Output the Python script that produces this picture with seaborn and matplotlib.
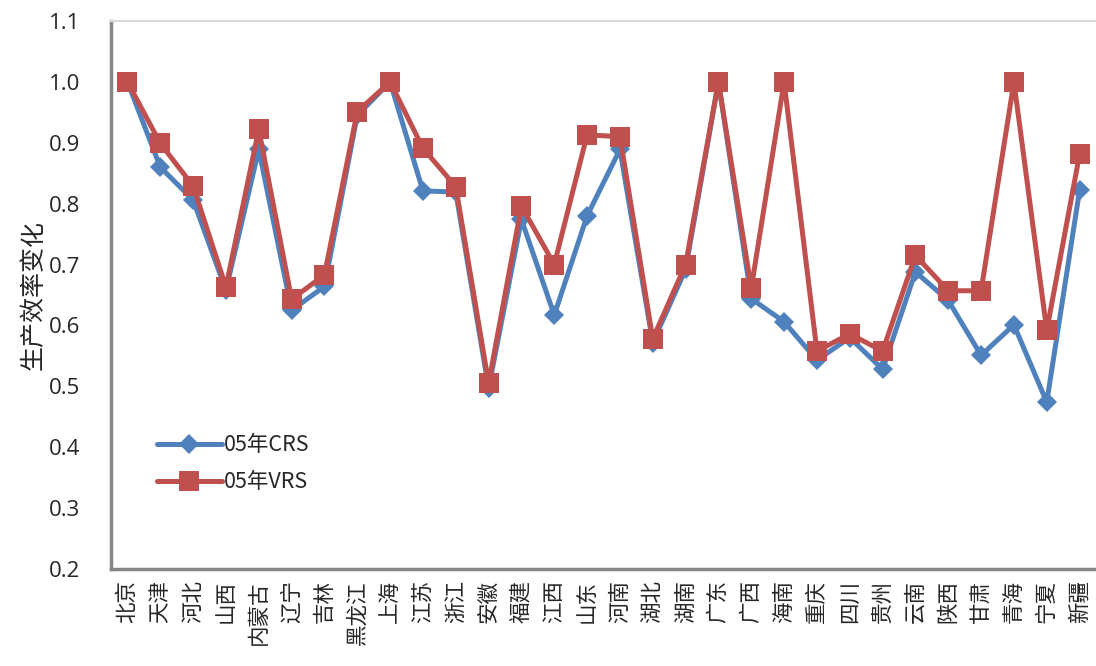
import matplotlib
matplotlib.use("Agg")
import matplotlib.pyplot as plt
import seaborn as sns
import numpy as np
import pandas as pd

provinces = ["北京", "天津", "河北", "山西", "内蒙古", "辽宁", "吉林", "黑龙江", "上海", "江苏",
             "浙江", "安徽", "福建", "江西", "山东", "河南", "湖北", "湖南", "广东", "广西",
             "海南", "重庆", "四川", "贵州", "云南", "陕西", "甘肃", "青海", "宁夏", "新疆"]
crs = [1.000, 0.860, 0.806, 0.658, 0.889, 0.625, 0.664, 0.945, 1.000, 0.821,
       0.819, 0.497, 0.774, 0.617, 0.780, 0.889, 0.572, 0.692, 1.000, 0.644,
       0.606, 0.543, 0.580, 0.528, 0.688, 0.641, 0.551, 0.601, 0.474, 0.822]
vrs = [1.000, 0.899, 0.829, 0.663, 0.922, 0.643, 0.683, 0.951, 1.000, 0.891,
       0.828, 0.505, 0.796, 0.700, 0.913, 0.910, 0.578, 0.700, 1.000, 0.661,
       1.000, 0.558, 0.586, 0.558, 0.715, 0.657, 0.657, 1.000, 0.592, 0.881]
series_names = ["05年CRS", "05年VRS"]
y_ticks = [0.2, 0.3, 0.4, 0.5, 0.6, 0.7, 0.8, 0.9, 1.0, 1.1]
y_label = "生产效率变化"

sns.set_style("white")
plt.rcParams['font.family'] = ['Noto Sans CJK SC', 'DejaVu Sans']

df = pd.DataFrame({
    "pos": list(range(len(provinces))) * 2,
    "value": crs + vrs,
    "series": [series_names[0]] * len(crs) + [series_names[1]] * len(vrs),
})

fig = plt.figure(figsize=(10.96, 6.66), dpi=100)
ax = fig.add_axes([0.1013, 0.1456, 0.8987, 0.8229])

palette = {series_names[0]: "#4F81BD", series_names[1]: "#C0504D"}
markers = {series_names[0]: "D", series_names[1]: "s"}
sns.lineplot(data=df, x="pos", y="value", hue="series", style="series",
             palette=palette, markers=markers, dashes=False, linewidth=3.6,
             markersize=11, markeredgewidth=0, ax=ax, sort=False)
for line in ax.get_lines():
    if line.get_marker() == "s":
        line.set_markersize(14)
    elif line.get_marker() == "D":
        line.set_markersize(10)

ax.set_xlim(-0.5, len(provinces) - 0.5)
ax.set_ylim(0.2, 1.1)
ax.set_yticks(y_ticks)
ax.set_yticklabels([f"{t:.1f}" for t in y_ticks], fontsize=16,
                   family=['Open Sans', 'DejaVu Sans'])
ax.set_xticks(range(len(provinces)))
ax.set_xticklabels(provinces, rotation=90, fontsize=15.5, ha="center", va="top")
ax.tick_params(axis="both", length=0, pad=8)
ax.tick_params(axis="y", pad=22)
ax.set_xlabel("")
ax.set_ylabel(y_label, fontsize=18, labelpad=2, fontweight="medium")

ax.spines["right"].set_visible(False)
ax.spines["top"].set_color("#D9D9D9")
ax.spines["top"].set_linewidth(1.5)
ax.spines["left"].set_color("#868686")
ax.spines["left"].set_linewidth(2.5)
ax.spines["bottom"].set_color("#868686")
ax.spines["bottom"].set_linewidth(2.5)

handles, labels = ax.get_legend_handles_labels()
for h in handles:
    h.set_linewidth(3.6)
leg = ax.legend(handles, labels, loc="upper left", bbox_to_anchor=(0.038, 0.262),
                frameon=False, fontsize=15.5, handlelength=3.0, handletextpad=0.1,
                labelspacing=0.7, borderaxespad=0)
for t in leg.get_texts():
    t.set_family(['Noto Sans CJK SC', 'DejaVu Sans'])

fig.savefig("out.png", dpi=100)
